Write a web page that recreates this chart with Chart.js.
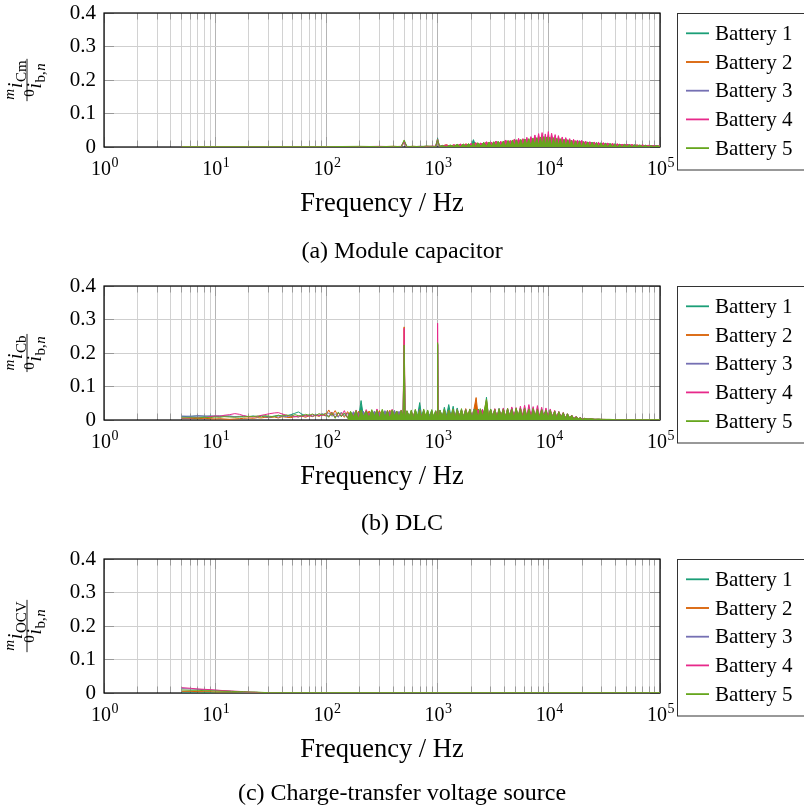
<!DOCTYPE html>
<html>
<head>
<meta charset="utf-8">
<script src="https://cdn.jsdelivr.net/npm/chart.js@4.4.1/dist/chart.umd.min.js"></script>
<style>
  html, body { margin: 0; padding: 0; background: #fff; }
  #wrap { position: relative; width: 804px; height: 811px; overflow: hidden; background: #fff; }
  #wrap canvas { position: absolute; left: 0; }
</style>
</head>
<body>
<div id="wrap">
  <canvas id="panelA" width="804" height="273" style="top:0px"></canvas>
  <canvas id="panelB" width="804" height="273" style="top:273px"></canvas>
  <canvas id="panelC" width="804" height="265" style="top:546px"></canvas>
</div>
<script>
// ---------------------------------------------------------------------------
// Series names, colours and axis labels
// ---------------------------------------------------------------------------
const LEGEND_LABELS = ['Battery 1', 'Battery 2', 'Battery 3', 'Battery 4', 'Battery 5'];
const COLORS = ['#1b9e77', '#d95f02', '#7570b3', '#e7298a', '#66a61e'];
const DECADES = [1, 10, 100, 1000, 10000, 100000];
const DECADE_EXPONENTS = ['0', '1', '2', '3', '4', '5'];
const Y_TICKS = [0, 0.1, 0.2, 0.3, 0.4];
const Y_TICK_LABELS = ['0', '0.1', '0.2', '0.3', '0.4'];
const X_TITLE = 'Frequency / Hz';

// ---------------------------------------------------------------------------
// (a) Module capacitor current spectrum
// ---------------------------------------------------------------------------
const FREQ_MODULE = [5, 20, 100, 200, 300, 400, 470, 500, 530, 600,
  700, 800, 900, 960, 1000, 1040, 1100, 1200, 1300, 1400,
  1500, 1600, 1700, 1800, 1900, 2000, 2100, 2200, 2300, 2450,
  2600, 2750, 2900, 3050, 3200, 3350, 3500, 3700, 3900, 4100,
  4300, 4500, 4700, 4900, 5100, 5350, 5600, 5850, 6100, 6350,
  6600, 6900, 7200, 7500, 7800, 8100, 8400, 8700, 9000, 9300,
  9600, 9900, 10200, 10600, 11000, 11400, 11800, 12200, 12700, 13200,
  13700, 14200, 14800, 15400, 16000, 16700, 17400, 18100, 18900, 19700,
  20500, 21400, 22400, 23400, 24500, 25600, 26800, 28000, 29400, 30800,
  32300, 33900, 35600, 37400, 39300, 41300, 43400, 45600, 48000, 50500,
  53000, 56000, 59000, 62000, 66000, 70000, 74000, 78000, 83000, 88000,
  94000, 100000];
const MODULE_B1 = [.001,.001,.001,.001,.001,.001, .001,.018,.002, .001,.002,.001,.001,.002, .026,.001,
  .005,.002,.004,.002,.007,.003,.006,.002,.009,
  .003,.022,.004,.010,.005,.012,.004,.014,.006,.013,.005,.016,
  .006,.017,.008,.016,.007,.019,.009,.021,.008,.020,.010,.022,.009,.024,
  .011,.025,.010,.027,.012,.026,.011,.029,.013,.027,.012,.028,.011,.026,.013,.024,.012,
  .023,.010,.022,.011,.021,.009,.020,.010,.018,.008,.019,.009,
  .016,.008,.015,.009,.014,.007,.013,.008,.012,.006,.011,.007,.010,.005,.009,.006,
  .008,.004,.007,.005,.007,.003,.006,.004,.005,.003,.005,.002,.004,.003,.004,.002];
const MODULE_B2 = [.001,.001,.001,.001,.001,.002, .001,.012,.001, .002,.001,.002,.001,.001, .018,.002,
  .003,.007,.002,.006,.003,.008,.002,.010,.003,
  .009,.004,.013,.005,.011,.006,.015,.004,.014,.007,.017,.006,
  .016,.007,.019,.008,.018,.009,.022,.008,.021,.010,.024,.009,.023,.011,
  .026,.010,.028,.012,.027,.011,.030,.013,.028,.012,.031,.011,.029,.013,.027,.012,.025,
  .011,.024,.010,.022,.011,.021,.009,.020,.010,.018,.008,.017,
  .009,.016,.007,.015,.008,.014,.006,.013,.007,.012,.005,.011,.006,.010,.005,.009,
  .004,.008,.005,.007,.003,.007,.004,.006,.003,.005,.002,.005,.003,.004,.002,.003];
const MODULE_B3 = [.001,.001,.001,.001,.001,.001, .001,.014,.001, .001,.001,.002,.001,.002, .020,.001,
  .004,.002,.005,.003,.006,.002,.008,.003,.007,
  .004,.010,.005,.012,.004,.013,.006,.012,.005,.015,.007,.014,
  .007,.016,.008,.018,.007,.017,.009,.020,.008,.021,.010,.023,.009,.022,
  .011,.024,.010,.026,.012,.025,.011,.027,.013,.029,.012,.026,.011,.027,.013,.023,.012,
  .022,.010,.021,.011,.019,.009,.020,.010,.017,.008,.018,.009,
  .015,.008,.014,.009,.013,.007,.012,.008,.011,.006,.010,.007,.009,.005,.009,.006,
  .007,.004,.007,.005,.006,.003,.006,.004,.005,.003,.004,.002,.004,.003,.003,.002];
const MODULE_B4 = [.001,.001,.001,.001,.002,.001, .002,.016,.001, .001,.002,.001,.003,.002, .024,.001,
  .003,.006,.002,.007,.003,.009,.002,.008,.004,
  .011,.003,.013,.005,.012,.004,.016,.006,.015,.005,.018,.007,
  .017,.006,.021,.008,.020,.007,.024,.009,.026,.008,.025,.010,.029,.009,
  .031,.011,.036,.010,.040,.012,.043,.011,.039,.013,.046,.012,.041,.014,.037,.012,.034,
  .013,.030,.011,.028,.012,.025,.010,.023,.011,.021,.009,.020,
  .008,.018,.009,.016,.007,.015,.008,.014,.006,.013,.007,.011,.005,.010,.006,.009,
  .005,.008,.004,.008,.005,.007,.003,.006,.004,.006,.003,.005,.003,.004,.002,.004];
const MODULE_B5 = [.001,.001,.001,.002,.001,.002, .001,.021,.001, .002,.001,.003,.002,.001, .022,.002,
  .004,.001,.006,.002,.008,.001,.009,.002,.010,
  .002,.012,.001,.013,.003,.014,.002,.015,.003,.016,.002,.017,
  .003,.018,.002,.020,.004,.021,.003,.022,.004,.023,.002,.024,.005,.025,
  .003,.027,.005,.028,.002,.030,.004,.031,.003,.030,.005,.029,.002,.028,.004,.026,.003,
  .025,.004,.023,.002,.022,.003,.020,.002,.019,.003,.017,.002,
  .016,.003,.015,.002,.014,.003,.013,.002,.012,.002,.011,.001,.010,.002,.009,.001,
  .008,.001,.008,.002,.007,.001,.006,.002,.006,.001,.005,.001,.004,.001,.004,.001];

// ---------------------------------------------------------------------------
// (b) DLC current spectrum
// ---------------------------------------------------------------------------
const FREQ_DLC = [5, 6, 7, 8, 9, 10, 11, 12, 13.5, 15,
  16.5, 18, 20, 22, 24, 26, 28, 31, 34, 37,
  40, 44, 48, 52, 56, 60, 65, 70, 75, 80,
  86, 92, 98, 105, 112, 120, 128, 136, 145, 155,
  165, 175, 185, 195, 205, 215, 228, 242, 256, 270,
  285, 300, 318, 336, 354, 372, 390, 410, 430, 450,
  470, 490, 500, 510, 530, 555, 580, 605, 630, 660,
  690, 720, 750, 780, 815, 850, 885, 920, 960, 990,
  1000, 1010, 1050, 1100, 1150, 1200, 1260, 1320, 1380, 1440,
  1500, 1570, 1640, 1710, 1790, 1870, 1950, 2040, 2130, 2220,
  2320, 2420, 2530, 2640, 2750, 2870, 3000, 3130, 3270, 3420,
  3570, 3730, 3900, 4080, 4260, 4450, 4650, 4860, 5080, 5310,
  5550, 5800, 6060, 6330, 6620, 6920, 7230, 7560, 7900, 8260,
  8630, 9020, 9430, 9860, 10300, 10800, 11300, 11800, 12300, 12900,
  13500, 14100, 14700, 15400, 16100, 16800, 17600, 18400, 19200, 20100,
  21000, 22500, 24000, 26000, 28000, 31000, 35000, 40000, 50000, 60000,
  75000, 100000];
const DLC_B1 = [.010,.011,.012,.011,.012,.011,.010,.012,.011,.010,.009,.011,.010,
  .012,.010,.013,.011,.009,.012,.014,.011,.013,.016,.020,.024,.018,.012,.014,.011,.015,.012,.017,.013,
  .012,.018,.009,.021,.011,.019,.008,.024,.010,.022,.007,.058,.012,.025,.008,.027,.011,.024,.006,.028,.010,.026,.009,.029,.012,.025,.008,.027,.011,
  .215,
  .009,.027,.012,.025,.007,.029,.011,.052,.010,.028,.006,.026,.012,.030,.008,.027,.010,
  .225,
  .011,.030,.008,.038,.012,.046,.010,.041,.007,.036,.011,.030,.009,.032,.012,.029,.008,.031,.010,.033,.011,.030,.009,.068,.010,
  .031,.010,.033,.008,.029,.011,.034,.009,.030,.012,.035,.007,.032,.011,.036,.009,.033,.010,.034,.008,.031,.012,.033,.009,.030,.011,.029,.007,
  .028,.010,.026,.006,.024,.009,.021,.005,.018,.007,.013,.004,.009,.003,.006,.002,.004,
  .003,.003,.002,.002,.001,.001,.001,.001,.001,.001,.001];
const DLC_B2 = [.006,.005,.004,.005,.004,.003,.004,.003,.002,.003,.004,.005,.006,
  .005,.007,.006,.008,.007,.009,.006,.010,.008,.007,.011,.009,.012,.008,.013,.010,.014,.011,.016,.012,
  .030,.013,.028,.010,.022,.008,.025,.011,.020,.009,.026,.012,.023,.007,.027,.010,.024,.013,.028,.009,.025,.011,.029,.008,.026,.012,.024,.010,.027,
  .278,
  .011,.026,.009,.024,.012,.028,.008,.025,.010,.027,.013,.023,.009,.026,.011,.024,.008,
  .226,
  .010,.027,.012,.025,.008,.029,.011,.026,.009,.031,.013,.028,.010,.034,.012,.030,.011,.035,.067,.010,.032,.012,.029,.060,.011,
  .030,.011,.032,.009,.029,.012,.033,.010,.031,.008,.034,.011,.030,.009,.032,.012,.031,.010,.033,.008,.030,.011,.032,.009,.029,.010,.028,.008,
  .027,.009,.025,.007,.023,.008,.020,.006,.017,.005,.012,.004,.009,.003,.006,.002,.004,
  .002,.003,.002,.002,.001,.001,.001,.001,.001,.001,.001];
const DLC_B3 = [.012,.011,.013,.012,.011,.012,.013,.011,.012,.010,.011,.012,.010,
  .011,.009,.012,.010,.008,.011,.009,.012,.010,.013,.011,.009,.014,.012,.015,.011,.016,.013,.019,.014,
  .021,.011,.019,.008,.023,.012,.020,.009,.025,.010,.022,.008,.026,.011,.021,.009,.027,.012,.024,.007,.028,.010,.025,.011,.029,.009,.026,.012,.024,
  .220,
  .010,.027,.008,.025,.011,.028,.009,.024,.012,.029,.007,.026,.010,.027,.008,.025,.011,
  .228,
  .009,.028,.011,.026,.008,.030,.012,.027,.010,.032,.009,.029,.011,.031,.008,.028,.012,.033,.010,.029,.011,.031,.009,.028,.010,
  .032,.010,.030,.008,.035,.011,.031,.009,.033,.012,.036,.010,.032,.008,.034,.011,.037,.009,.033,.012,.035,.010,.031,.008,.032,.011,.030,.009,
  .028,.010,.026,.007,.024,.009,.021,.006,.018,.005,.013,.004,.010,.003,.006,.002,.004,
  .003,.002,.002,.002,.001,.001,.001,.001,.001,.001,.001];
const DLC_B4 = [.005,.006,.008,.007,.010,.012,.011,.014,.016,.019,.017,.013,.010,
  .009,.011,.014,.016,.019,.021,.022,.018,.014,.011,.009,.012,.010,.014,.011,.016,.012,.015,.013,.018,
  .010,.024,.008,.020,.012,.028,.006,.022,.011,.030,.009,.025,.007,.031,.012,.026,.008,.033,.010,.027,.006,.029,.011,.032,.009,.026,.007,.030,.010,
  .274,
  .008,.025,.006,.027,.010,.024,.007,.031,.009,.026,.011,.006,.006,.006,.006,.006,.028,
  .289,
  .007,.026,.010,.030,.006,.028,.011,.032,.008,.027,.012,.031,.007,.029,.010,.033,.006,.028,.011,.030,.008,.032,.010,.027,.009,
  .030,.009,.034,.007,.032,.011,.036,.008,.035,.012,.039,.010,.037,.009,.041,.013,.044,.010,.046,.012,.040,.009,.043,.011,.038,.010,.036,.008,
  .033,.010,.029,.007,.026,.009,.023,.005,.019,.007,.015,.004,.011,.004,.007,.003,.005,
  .003,.003,.002,.002,.002,.001,.001,.001,.001,.001,.001];
const DLC_B5 = [.006,.007,.006,.008,.007,.009,.008,.010,.009,.008,.010,.009,.011,
  .010,.012,.009,.013,.011,.010,.014,.012,.015,.011,.016,.013,.012,.017,.014,.018,.013,.019,.015,.020,
  .008,.022,.005,.024,.010,.021,.006,.026,.009,.028,.004,.030,.011,.027,.007,.031,.012,.029,.006,.032,.010,.028,.005,.030,.013,.027,.008,.029,.011,
  .224,
  .006,.028,.010,.030,.005,.032,.012,.029,.007,.033,.011,.030,.004,.031,.009,.028,.006,
  .231,
  .005,.029,.011,.032,.007,.030,.012,.033,.006,.031,.010,.034,.008,.030,.013,.033,.006,.031,.030,.009,.034,.012,.032,.062,.007,
  .033,.010,.031,.006,.034,.012,.032,.008,.035,.011,.033,.005,.036,.013,.034,.007,.035,.010,.033,.006,.034,.012,.032,.008,.031,.010,.030,.006,
  .029,.009,.027,.005,.025,.008,.022,.004,.019,.006,.014,.003,.010,.004,.007,.002,.005,
  .003,.004,.002,.003,.002,.002,.001,.001,.001,.001,.001];

// ---------------------------------------------------------------------------
// (c) Charge-transfer voltage source current spectrum
// ---------------------------------------------------------------------------
const FREQ_OCV = [5, 6, 7, 8, 9, 10, 12, 14, 16, 18, 20, 23, 26, 30, 40, 60, 100, 300, 1000, 3000, 10000, 30000, 100000];
const OCV_B1 = [.003,.003,.003,.002,.002,.002,.002,.002,.001,.001,.001,.001,.001,0,0,0,0,0,0,0,0,0,0];
const OCV_B2 = [.005,.005,.004,.004,.004,.003,.003,.003,.003,.003,.002,.001,.001,.001,0,0,0,0,0,0,0,0,0];
const OCV_B3 = [.013,.012,.011,.010,.009,.008,.007,.005,.004,.003,.002,.002,.001,.001,0,0,0,0,0,0,0,0,0];
const OCV_B4 = [.016,.014,.012,.011,.010,.009,.007,.006,.005,.004,.003,.002,.001,.001,0,0,0,0,0,0,0,0,0];
const OCV_B5 = [.009,.008,.008,.007,.007,.006,.005,.005,.004,.004,.003,.003,.002,.001,.001,.001,.001,.001,.001,.001,.001,.001,.001];

// Grid positions on the log axis: 1..9 times every decade
const X_GRID = [];
DECADES.forEach((d, k) => {
  if (k === DECADES.length - 1) { X_GRID.push(d); return; }
  for (let m = 1; m <= 9; m++) X_GRID.push(d * m);
});

const SERIF = '"Liberation Serif", "Times New Roman", serif';
const F_MAIN_IT = 'italic 21px ' + SERIF;
const F_SCRIPT_IT = 'italic 15px ' + SERIF;
const F_SCRIPT_RM = '15px ' + SERIF;

// y-axis label: fraction  m i_X / 0 i_b,n  written as text runs
function yLabelRuns(sub) {
  return {
    num: [
      { t: 'm', f: F_SCRIPT_IT, dy: -8, gap: 0.5 },
      { t: 'i', f: F_MAIN_IT, dy: 0, gap: 0.5 },
      { t: sub, f: F_SCRIPT_RM, dy: 4 }
    ],
    den: [
      { t: '0', f: F_SCRIPT_RM, dy: -7, gap: 0.5 },
      { t: 'i', f: F_MAIN_IT, dy: 0, gap: 0.5 },
      { t: 'b,', f: F_SCRIPT_RM, dy: 4, gap: 0.5 },
      { t: 'n', f: F_SCRIPT_IT, dy: 4 }
    ]
  };
}

function runsWidth(ctx, runs) {
  return runs.reduce((w, r) => { ctx.font = r.f; return w + ctx.measureText(r.t).width + (r.gap || 0); }, 0);
}
function drawRuns(ctx, runs, startX, base) {
  let x = startX;
  runs.forEach(r => {
    ctx.font = r.f;
    ctx.fillText(r.t, x, base + r.dy);
    x += ctx.measureText(r.t).width + (r.gap || 0);
  });
}
function drawFraction(ctx, cx, cy, frac) {
  ctx.save();
  ctx.translate(cx, cy);
  ctx.rotate(-Math.PI / 2);
  ctx.fillStyle = '#000';
  ctx.textBaseline = 'alphabetic';
  const wn = runsWidth(ctx, frac.num), wd = runsWidth(ctx, frac.den);
  const bar = Math.max(wn, wd) + 3;
  drawRuns(ctx, frac.num, -wn / 2, -5.5);
  drawRuns(ctx, frac.den, -wd / 2, 14);
  ctx.fillRect(-bar / 2, -0.45, bar, 0.9);
  ctx.restore();
}

const alignPx = p => Math.round(p - 0.5) + 0.5;

// Frame, inner tick marks, decade labels, titles and legend of each panel
const panelDecor = {
  id: 'panelDecor',
  beforeDatasetsDraw(chart) {
    const { ctx, chartArea: a, scales: { x, y } } = chart;
    ctx.save();
    ctx.strokeStyle = '#999999';
    ctx.lineWidth = 1;
    ctx.beginPath();
    x.ticks.forEach(t => {
      const px = alignPx(x.getPixelForValue(t.value));
      const len = DECADES.includes(t.value) ? 10 : 6.5;
      ctx.moveTo(px, a.bottom); ctx.lineTo(px, a.bottom - len);
      ctx.moveTo(px, a.top); ctx.lineTo(px, a.top + len);
    });
    y.ticks.forEach(t => {
      const py = alignPx(y.getPixelForValue(t.value));
      ctx.moveTo(a.left, py); ctx.lineTo(a.left + 10, py);
      ctx.moveTo(a.right, py); ctx.lineTo(a.right - 10, py);
    });
    ctx.stroke();
    ctx.strokeStyle = '#000';
    ctx.lineWidth = 1.2;
    ctx.strokeRect(a.left, a.top, a.right - a.left, a.bottom - a.top);
    ctx.restore();
  },
  afterDraw(chart, args, opts) {
    const { ctx, chartArea: a, scales: { x } } = chart;
    ctx.save();
    ctx.fillStyle = '#000';
    ctx.textBaseline = 'alphabetic';

    // decade labels 10^k
    DECADES.forEach((d, k) => {
      const px = x.getPixelForValue(d);
      ctx.font = '20px ' + SERIF;
      const w1 = ctx.measureText('10').width;
      ctx.font = '14px ' + SERIF;
      const w2 = ctx.measureText(DECADE_EXPONENTS[k]).width;
      const start = px - (w1 + w2) / 2 + 0.5;
      ctx.font = '20px ' + SERIF;
      ctx.fillText('10', start, a.bottom + 28);
      ctx.font = '14px ' + SERIF;
      ctx.fillText(DECADE_EXPONENTS[k], start + w1 + 0.5, a.bottom + 20);
    });

    // x-axis title
    ctx.font = '26.5px ' + SERIF;
    ctx.textAlign = 'center';
    ctx.fillText(X_TITLE, (a.left + a.right) / 2, 211);

    // sub-figure caption
    ctx.font = '24px ' + SERIF;
    ctx.fillText(opts.caption, 402, opts.captionBaseline);
    ctx.textAlign = 'left';

    // y-axis label
    drawFraction(ctx, 27, (a.top + a.bottom) / 2, opts.yLabel);

    // legend
    const lx = 677.5, ly = a.top + 0.5, lw = 130, lh = 156.5;
    ctx.strokeStyle = '#333';
    ctx.lineWidth = 1;
    ctx.strokeRect(lx, ly, lw, lh);
    LEGEND_LABELS.forEach((label, i) => {
      const ry = a.top + 20.3 + i * 28.7;
      ctx.strokeStyle = COLORS[i];
      ctx.lineWidth = 1.8;
      ctx.beginPath();
      ctx.moveTo(686, ry); ctx.lineTo(709, ry);
      ctx.stroke();
      ctx.font = '21px ' + SERIF;
      ctx.fillText(label, 715, ry + 6.5);
    });
    ctx.restore();
  }
};

// One panel: five spectra. Above `fillFrom` the dense bins are shaded to the axis.
function makePanel(canvasId, freq, series, fillFrom, ySub, caption, captionBaseline) {
  const datasets = [];
  series.forEach((vals, i) => {
    const pts = freq.map((f, j) => ({ x: f, y: vals[j] }));
    const base = {
      label: LEGEND_LABELS[i],
      borderColor: COLORS[i],
      backgroundColor: COLORS[i],
      borderWidth: 1,
      pointRadius: 0,
      tension: 0,
      order: series.length - i
    };
    if (fillFrom == null) {
      datasets.push({ ...base, data: pts, fill: false });
    } else {
      datasets.push({ ...base, data: pts.filter(p => p.x <= fillFrom), fill: false });
      datasets.push({ ...base, data: pts.filter(p => p.x >= fillFrom), fill: 'origin' });
    }
  });
  return new Chart(document.getElementById(canvasId), {
    type: 'line',
    data: { datasets },
    options: {
      responsive: false,
      animation: false,
      devicePixelRatio: 1,
      layout: { padding: { top: 13, right: 144, left: 0, bottom: 0 } },
      plugins: {
        legend: { display: false },
        tooltip: { enabled: false },
        panelDecor: { caption, captionBaseline, yLabel: yLabelRuns(ySub) }
      },
      scales: {
        x: {
          type: 'logarithmic',
          min: 1,
          max: 100000,
          afterBuildTicks: s => { s.ticks = X_GRID.map(v => ({ value: v })); },
          afterFit: s => { s.height = s.chart.height - 147; s.paddingLeft = 0; s.paddingRight = 0; },
          ticks: { display: false },
          grid: {
            drawTicks: false,
            lineWidth: 1,
            color: c => (c.tick && DECADES.includes(c.tick.value)) ? '#b5b5b5' : '#d2d2d2'
          },
          border: { display: false }
        },
        y: {
          min: 0,
          max: 0.4,
          afterBuildTicks: s => { s.ticks = Y_TICKS.map(v => ({ value: v })); },
          afterFit: s => { s.width = 104; s.paddingTop = 0; s.paddingBottom = 0; },
          ticks: {
            padding: 8,
            color: '#000',
            font: { family: 'Liberation Serif', size: 21 },
            callback: (v, i) => Y_TICK_LABELS[i]
          },
          grid: { drawTicks: false, lineWidth: 1, color: '#cfcfcf' },
          border: { display: false }
        }
      }
    },
    plugins: [panelDecor]
  });
}

makePanel('panelA', FREQ_MODULE, [MODULE_B1, MODULE_B2, MODULE_B3, MODULE_B4, MODULE_B5], 1040, 'Cm', '(a) Module capacitor', 258);
makePanel('panelB', FREQ_DLC, [DLC_B1, DLC_B2, DLC_B3, DLC_B4, DLC_B5], 155, 'Cb', '(b) DLC', 257);
makePanel('panelC', FREQ_OCV, [OCV_B1, OCV_B2, OCV_B3, OCV_B4, OCV_B5], null, 'OCV', '(c) Charge-transfer voltage source', 254);
</script>
</body>
</html>
